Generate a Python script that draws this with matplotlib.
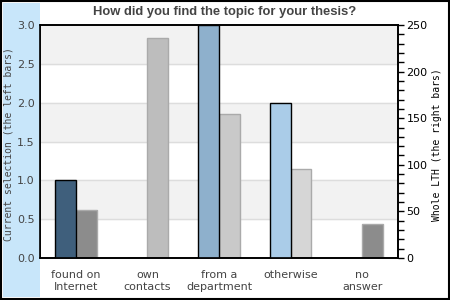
import numpy as np
import matplotlib.pyplot as plt
from matplotlib.patches import Rectangle
from matplotlib.ticker import MultipleLocator

categories = ["found on\nInternet", "own\ncontacts", "from a\ndepartment", "otherwise", "no\nanswer"]
current = [1, 0, 3, 2, 0]
whole_lth = [52, 236, 155, 96, 37]

left_colors = ["#3f5f7c", "#8eb0cc", "#8eb0cc", "#aacce8", "#aacce8"]
right_colors = ["#8c8c8c", "#bdbdbd", "#c9c9c9", "#d6d6d6", "#8c8c8c"]
txt = "#444444"

fig = plt.figure(figsize=(4.5, 3), dpi=100)
fig.patches.append(Rectangle((0.002, 0.002), 0.996, 0.996, transform=fig.transFigure,
                             fill=False, edgecolor="black", linewidth=1.5))
fig.patches.append(Rectangle((3/450, 3/300), 37/450, 294/300, transform=fig.transFigure,
                             facecolor="#c8e6fa", edgecolor="none", zorder=0))

ax = fig.add_axes([40/450, 42/300, 358/450, 233/300])
ax2 = ax.twinx()

x = np.arange(len(categories))
w = 0.29
scale = 250 / 3

# alternating bands and grid (on the lower axes, in right-axis units)
for i in range(6):
    lo = i * 0.5
    if i % 2 == 1:
        ax2.axhspan(lo * scale, (lo + 0.5) * scale, color="#f2f2f2", zorder=0)
for y in np.arange(0.5, 3.0, 0.5):
    ax2.axhline(y * scale, color="#dddddd", linewidth=1, zorder=0.5)

ax.bar(x - w / 2, current, width=w, color=left_colors, edgecolor="black", linewidth=1, zorder=2)
ax2.bar(x + w / 2, whole_lth, width=w, color=right_colors, edgecolor="#aaaaaa", linewidth=1, zorder=2)

ax.set_xlim(-0.5, 4.5)
ax.set_ylim(0, 3)
ax2.set_ylim(0, 250)
ax.yaxis.set_major_locator(MultipleLocator(0.5))
ax2.yaxis.set_major_locator(MultipleLocator(50))
ax2.yaxis.set_minor_locator(MultipleLocator(10))

ax.set_xticks(x)
ax.set_xticklabels(categories, color=txt, fontsize=8, linespacing=1.15)
ax.tick_params(axis="x", length=0, pad=9)
ax.tick_params(axis="y", length=0, labelcolor=txt, labelsize=8, pad=4)
ax2.tick_params(axis="y", which="both", length=4, width=1, direction="out",
                labelcolor="black", labelsize=8, pad=2)

for sp in list(ax.spines.values()) + list(ax2.spines.values()):
    sp.set_linewidth(1.2)

ax.patch.set_visible(False)
ax.set_zorder(ax2.get_zorder() + 1)
ax2.patch.set_visible(True)

fig.text(225/450, 1 - 12/300, "How did you find the topic for your thesis?",
         ha="center", va="center", fontsize=9.4, fontweight="bold",
         color=txt, family="Liberation Sans")
fig.text(9/450, 1 - 144/300, "Current selection (the left bars)", rotation=90,
         ha="center", va="center", fontsize=7.0, family="DejaVu Sans Mono", color=txt)
fig.text(437/450, 1 - 145/300, "Whole LTH (the right bars)", rotation=90,
         ha="center", va="center", fontsize=7.0, family="DejaVu Sans Mono", color="black")

fig.savefig("out.png", dpi=100)
